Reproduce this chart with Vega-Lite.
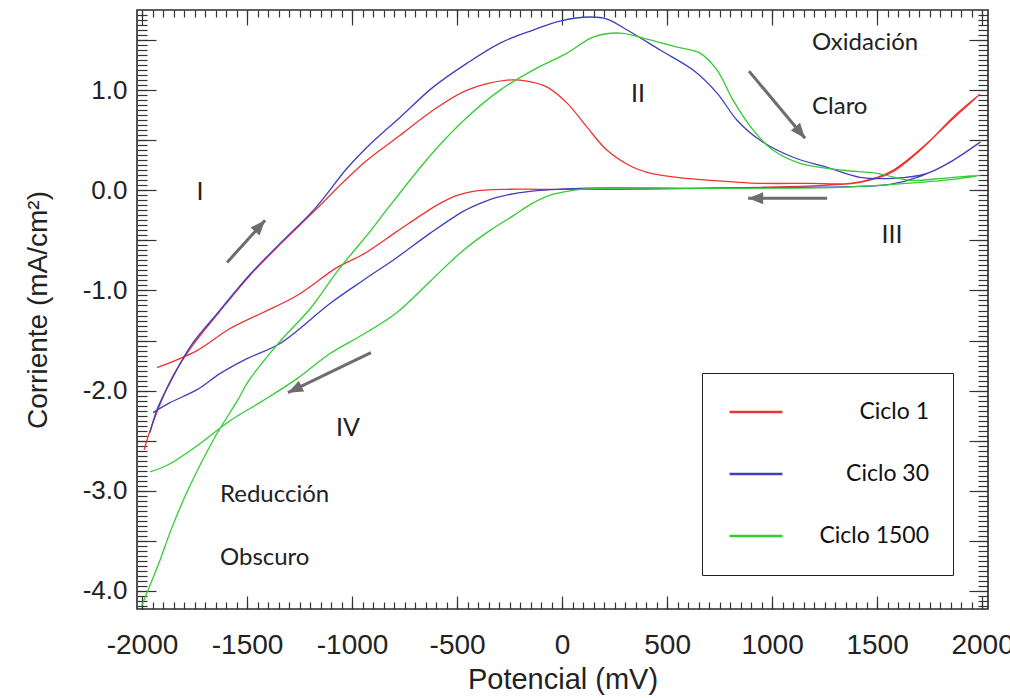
{
 "$schema": "https://vega.github.io/schema/vega-lite/v6.json",
 "width": 851, "height": 599,
 "autosize": {"type": "none"},
 "padding": {"left": 137, "top": 10, "right": 22, "bottom": 89},
 "background": "white",
 "config": {"view": {"stroke": "#2a2a2a", "strokeWidth": 1.6}, "axis": {"grid": false, "domain": false, "tickColor": "#333", "tickWidth": 1.2, "labelFlush": false}},
 "datasets": {
  "curves": [
   {"c":"Ciclo 1","i":1,"E":-1990,"I":-2.59},{"c":"Ciclo 1","i":2,"E":-1957,"I":-2.37},{"c":"Ciclo 1","i":3,"E":-1862,"I":-1.89},{"c":"Ciclo 1","i":4,"E":-1767,"I":-1.57},{"c":"Ciclo 1","i":5,"E":-1638,"I":-1.23},{"c":"Ciclo 1","i":6,"E":-1495,"I":-0.87},{"c":"Ciclo 1","i":7,"E":-1338,"I":-0.53},{"c":"Ciclo 1","i":8,"E":-1176,"I":-0.2},{"c":"Ciclo 1","i":9,"E":-1033,"I":0.1},{"c":"Ciclo 1","i":10,"E":-929,"I":0.3},{"c":"Ciclo 1","i":11,"E":-771,"I":0.55},{"c":"Ciclo 1","i":12,"E":-614,"I":0.8},{"c":"Ciclo 1","i":13,"E":-452,"I":1.0},{"c":"Ciclo 1","i":14,"E":-262,"I":1.1},{"c":"Ciclo 1","i":15,"E":-167,"I":1.09},{"c":"Ciclo 1","i":16,"E":-71,"I":1.03},{"c":"Ciclo 1","i":17,"E":24,"I":0.87},{"c":"Ciclo 1","i":18,"E":119,"I":0.63},{"c":"Ciclo 1","i":19,"E":214,"I":0.4},{"c":"Ciclo 1","i":20,"E":338,"I":0.23},{"c":"Ciclo 1","i":21,"E":405,"I":0.18},{"c":"Ciclo 1","i":22,"E":548,"I":0.13},{"c":"Ciclo 1","i":23,"E":705,"I":0.1},{"c":"Ciclo 1","i":24,"E":943,"I":0.07},{"c":"Ciclo 1","i":25,"E":1181,"I":0.07},{"c":"Ciclo 1","i":26,"E":1371,"I":0.07},{"c":"Ciclo 1","i":27,"E":1500,"I":0.13},{"c":"Ciclo 1","i":28,"E":1576,"I":0.2},{"c":"Ciclo 1","i":29,"E":1738,"I":0.47},{"c":"Ciclo 1","i":30,"E":1862,"I":0.73},{"c":"Ciclo 1","i":31,"E":1990,"I":0.96},{"c":"Ciclo 1","i":32,"E":1848,"I":0.69},{"c":"Ciclo 1","i":33,"E":1705,"I":0.4},{"c":"Ciclo 1","i":34,"E":1562,"I":0.17},{"c":"Ciclo 1","i":35,"E":1419,"I":0.08},{"c":"Ciclo 1","i":36,"E":1243,"I":0.05},{"c":"Ciclo 1","i":37,"E":943,"I":0.03},{"c":"Ciclo 1","i":38,"E":657,"I":0.02},{"c":"Ciclo 1","i":39,"E":276,"I":0.01},{"c":"Ciclo 1","i":40,"E":-105,"I":0.01},{"c":"Ciclo 1","i":41,"E":-262,"I":0.01},{"c":"Ciclo 1","i":42,"E":-424,"I":-0.01},{"c":"Ciclo 1","i":43,"E":-500,"I":-0.05},{"c":"Ciclo 1","i":44,"E":-581,"I":-0.13},{"c":"Ciclo 1","i":45,"E":-629,"I":-0.19},{"c":"Ciclo 1","i":46,"E":-786,"I":-0.41},{"c":"Ciclo 1","i":47,"E":-948,"I":-0.64},{"c":"Ciclo 1","i":48,"E":-1071,"I":-0.77},{"c":"Ciclo 1","i":49,"E":-1262,"I":-1.05},{"c":"Ciclo 1","i":50,"E":-1424,"I":-1.22},{"c":"Ciclo 1","i":51,"E":-1581,"I":-1.38},{"c":"Ciclo 1","i":52,"E":-1738,"I":-1.6},{"c":"Ciclo 1","i":53,"E":-1929,"I":-1.77},
   {"c":"Ciclo 30","i":1,"E":-1962,"I":-2.42},{"c":"Ciclo 30","i":2,"E":-1929,"I":-2.19},{"c":"Ciclo 30","i":3,"E":-1867,"I":-1.92},{"c":"Ciclo 30","i":4,"E":-1767,"I":-1.55},{"c":"Ciclo 30","i":5,"E":-1638,"I":-1.22},{"c":"Ciclo 30","i":6,"E":-1495,"I":-0.86},{"c":"Ciclo 30","i":7,"E":-1338,"I":-0.52},{"c":"Ciclo 30","i":8,"E":-1176,"I":-0.18},{"c":"Ciclo 30","i":9,"E":-1024,"I":0.22},{"c":"Ciclo 30","i":10,"E":-929,"I":0.43},{"c":"Ciclo 30","i":11,"E":-771,"I":0.73},{"c":"Ciclo 30","i":12,"E":-614,"I":1.03},{"c":"Ciclo 30","i":13,"E":-452,"I":1.27},{"c":"Ciclo 30","i":14,"E":-295,"I":1.47},{"c":"Ciclo 30","i":15,"E":-138,"I":1.6},{"c":"Ciclo 30","i":16,"E":-10,"I":1.69},{"c":"Ciclo 30","i":17,"E":133,"I":1.73},{"c":"Ciclo 30","i":18,"E":214,"I":1.71},{"c":"Ciclo 30","i":19,"E":310,"I":1.6},{"c":"Ciclo 30","i":20,"E":467,"I":1.4},{"c":"Ciclo 30","i":21,"E":624,"I":1.2},{"c":"Ciclo 30","i":22,"E":738,"I":0.97},{"c":"Ciclo 30","i":23,"E":833,"I":0.7},{"c":"Ciclo 30","i":24,"E":943,"I":0.5},{"c":"Ciclo 30","i":25,"E":1100,"I":0.33},{"c":"Ciclo 30","i":26,"E":1262,"I":0.23},{"c":"Ciclo 30","i":27,"E":1419,"I":0.13},{"c":"Ciclo 30","i":28,"E":1576,"I":0.12},{"c":"Ciclo 30","i":29,"E":1738,"I":0.17},{"c":"Ciclo 30","i":30,"E":1862,"I":0.3},{"c":"Ciclo 30","i":31,"E":1990,"I":0.48},{"c":"Ciclo 30","i":32,"E":1848,"I":0.28},{"c":"Ciclo 30","i":33,"E":1705,"I":0.14},{"c":"Ciclo 30","i":34,"E":1562,"I":0.06},{"c":"Ciclo 30","i":35,"E":1419,"I":0.04},{"c":"Ciclo 30","i":36,"E":1133,"I":0.03},{"c":"Ciclo 30","i":37,"E":657,"I":0.02},{"c":"Ciclo 30","i":38,"E":86,"I":0.02},{"c":"Ciclo 30","i":39,"E":-152,"I":-0.01},{"c":"Ciclo 30","i":40,"E":-310,"I":-0.07},{"c":"Ciclo 30","i":41,"E":-390,"I":-0.13},{"c":"Ciclo 30","i":42,"E":-471,"I":-0.21},{"c":"Ciclo 30","i":43,"E":-629,"I":-0.43},{"c":"Ciclo 30","i":44,"E":-786,"I":-0.67},{"c":"Ciclo 30","i":45,"E":-948,"I":-0.9},{"c":"Ciclo 30","i":46,"E":-1105,"I":-1.13},{"c":"Ciclo 30","i":47,"E":-1343,"I":-1.53},{"c":"Ciclo 30","i":48,"E":-1500,"I":-1.68},{"c":"Ciclo 30","i":49,"E":-1629,"I":-1.83},{"c":"Ciclo 30","i":50,"E":-1738,"I":-1.99},{"c":"Ciclo 30","i":51,"E":-1867,"I":-2.12},{"c":"Ciclo 30","i":52,"E":-1948,"I":-2.22},
   {"c":"Ciclo 1500","i":1,"E":-2000,"I":-4.14},{"c":"Ciclo 1500","i":2,"E":-1971,"I":-3.99},{"c":"Ciclo 1500","i":3,"E":-1914,"I":-3.69},{"c":"Ciclo 1500","i":4,"E":-1862,"I":-3.39},{"c":"Ciclo 1500","i":5,"E":-1781,"I":-2.99},{"c":"Ciclo 1500","i":6,"E":-1652,"I":-2.46},{"c":"Ciclo 1500","i":7,"E":-1543,"I":-2.09},{"c":"Ciclo 1500","i":8,"E":-1495,"I":-1.91},{"c":"Ciclo 1500","i":9,"E":-1352,"I":-1.53},{"c":"Ciclo 1500","i":10,"E":-1195,"I":-1.17},{"c":"Ciclo 1500","i":11,"E":-1067,"I":-0.8},{"c":"Ciclo 1500","i":12,"E":-910,"I":-0.4},{"c":"Ciclo 1500","i":13,"E":-852,"I":-0.24},{"c":"Ciclo 1500","i":14,"E":-614,"I":0.38},{"c":"Ciclo 1500","i":15,"E":-452,"I":0.73},{"c":"Ciclo 1500","i":16,"E":-295,"I":1.0},{"c":"Ciclo 1500","i":17,"E":-138,"I":1.2},{"c":"Ciclo 1500","i":18,"E":24,"I":1.37},{"c":"Ciclo 1500","i":19,"E":148,"I":1.53},{"c":"Ciclo 1500","i":20,"E":276,"I":1.57},{"c":"Ciclo 1500","i":21,"E":386,"I":1.52},{"c":"Ciclo 1500","i":22,"E":548,"I":1.43},{"c":"Ciclo 1500","i":23,"E":657,"I":1.37},{"c":"Ciclo 1500","i":24,"E":738,"I":1.2},{"c":"Ciclo 1500","i":25,"E":814,"I":0.9},{"c":"Ciclo 1500","i":26,"E":910,"I":0.6},{"c":"Ciclo 1500","i":27,"E":1005,"I":0.4},{"c":"Ciclo 1500","i":28,"E":1133,"I":0.27},{"c":"Ciclo 1500","i":29,"E":1338,"I":0.2},{"c":"Ciclo 1500","i":30,"E":1500,"I":0.17},{"c":"Ciclo 1500","i":31,"E":1657,"I":0.1},{"c":"Ciclo 1500","i":32,"E":1814,"I":0.12},{"c":"Ciclo 1500","i":33,"E":1990,"I":0.15},{"c":"Ciclo 1500","i":34,"E":1900,"I":0.12},{"c":"Ciclo 1500","i":35,"E":1643,"I":0.07},{"c":"Ciclo 1500","i":36,"E":1324,"I":0.03},{"c":"Ciclo 1500","i":37,"E":657,"I":0.02},{"c":"Ciclo 1500","i":38,"E":181,"I":0.02},{"c":"Ciclo 1500","i":39,"E":86,"I":0.01},{"c":"Ciclo 1500","i":40,"E":24,"I":-0.01},{"c":"Ciclo 1500","i":41,"E":-60,"I":-0.05},{"c":"Ciclo 1500","i":42,"E":-150,"I":-0.14},{"c":"Ciclo 1500","i":43,"E":-230,"I":-0.25},{"c":"Ciclo 1500","i":44,"E":-343,"I":-0.4},{"c":"Ciclo 1500","i":45,"E":-471,"I":-0.6},{"c":"Ciclo 1500","i":46,"E":-629,"I":-0.91},{"c":"Ciclo 1500","i":47,"E":-786,"I":-1.22},{"c":"Ciclo 1500","i":48,"E":-948,"I":-1.44},{"c":"Ciclo 1500","i":49,"E":-1105,"I":-1.63},{"c":"Ciclo 1500","i":50,"E":-1262,"I":-1.88},{"c":"Ciclo 1500","i":51,"E":-1424,"I":-2.1},{"c":"Ciclo 1500","i":52,"E":-1581,"I":-2.3},{"c":"Ciclo 1500","i":53,"E":-1738,"I":-2.55},{"c":"Ciclo 1500","i":54,"E":-1876,"I":-2.74},{"c":"Ciclo 1500","i":55,"E":-1962,"I":-2.81}
  ],
  "arrows": [
   {"x1":-1595,"y1":-0.72,"x2":-1414,"y2":-0.3,"heading":42},
   {"x1":890,"y1":1.19,"x2":1157,"y2":0.52,"heading":140},
   {"x1":1262,"y1":-0.08,"x2":886,"y2":-0.08,"heading":270},
   {"x1":-910,"y1":-1.62,"x2":-1305,"y2":-2.02,"heading":244}
  ],
  "numerals": [
   {"t":"I","E":-1724,"I":-0.02},
   {"t":"II","E":362,"I":0.96},
   {"t":"III","E":1571,"I":-0.45},
   {"t":"IV","E":-1019,"I":-2.37}
  ],
  "notes": [
   {"t":"Oxidación","E":1190,"I":1.47},
   {"t":"Claro","E":1190,"I":0.83},
   {"t":"Reducción","E":-1629,"I":-3.04},
   {"t":"Obscuro","E":-1629,"I":-3.67}
  ]
 },
 "resolve": {"axis": {"x": "independent", "y": "independent"}},
 "layer": [
  {
   "data": {"name": "curves"},
   "mark": {"type": "line", "strokeWidth": 1.3, "interpolate": "catmull-rom"},
   "encoding": {
    "x": {"field": "E", "type": "quantitative", "scale": {"domain": [-2024, 2028], "nice": false, "zero": false},
     "axis": {"orient": "bottom", "values": [-2000,-1500,-1000,-500,0,500,1000,1500,2000], "labelExpr": "datum.value < 0 ? '-' + format(-datum.value, 'd') : format(datum.value, 'd')", "ticks": false, "labelPadding": 22, "labelFont": "Liberation Sans", "labelFontSize": 28, "labelColor": "#222", "title": "Potencial (mV)", "titleFont": "Liberation Sans", "titleFontSize": 29, "titleFontWeight": "normal", "titleColor": "#222", "titlePadding": 6}},
    "y": {"field": "I", "type": "quantitative", "scale": {"domain": [-4.18, 1.8], "nice": false, "zero": false},
     "axis": {"orient": "left", "values": [-4,-3,-2,-1,0,1], "labelExpr": "datum.value < 0 ? '-' + format(-datum.value, '.1f') : format(datum.value, '.1f')", "ticks": false, "labelPadding": 10, "labelFont": "Liberation Sans", "labelFontSize": 26, "labelColor": "#222", "title": "Corriente (mA/cm²)", "titleFont": "Liberation Sans", "titleFontSize": 28, "titleFontWeight": "normal", "titleColor": "#222", "titlePadding": 30}},
    "color": {"field": "c", "type": "nominal",
     "scale": {"domain": ["Ciclo 1", "Ciclo 30", "Ciclo 1500"], "range": ["#ee3333", "#3f3fbf", "#33cc33"]},
     "legend": {"orient": "none", "legendX": 565, "legendY": 363, "title": null, "fillColor": "white", "strokeColor": "#222", "padding": 24,
      "symbolType": "stroke", "symbolSize": 2800, "symbolStrokeWidth": 2.5, "symbolOffset": 2, "clipHeight": 30, "labelFont": "Lato", "labelFontSize": 23, "labelColor": "#111",
      "labelAlign": "right", "labelOffset": 145, "rowPadding": 32}},
    "order": {"field": "i", "type": "quantitative"}
   }
  },
  {
   "data": {"name": "curves"},
   "mark": {"type": "point", "opacity": 0},
   "encoding": {
    "x": {"field": "E", "type": "quantitative", "scale": {"domain": [-2024, 2028], "nice": false, "zero": false},
     "axis": {"orient": "bottom", "values": [-2000,-1500,-1000,-500,0,500,1000,1500,2000], "labels": false, "tickSize": 13, "offset": -13, "title": null}},
    "y": {"field": "I", "type": "quantitative", "scale": {"domain": [-4.18, 1.8], "nice": false, "zero": false},
     "axis": {"orient": "left", "values": [-4,-3.5,-3,-2.5,-2,-1.5,-1,-0.5,0,0.5,1,1.5], "labels": false, "tickSize": 19, "offset": -19, "title": null}}
   }
  },
  {
   "data": {"name": "curves"},
   "mark": {"type": "point", "opacity": 0},
   "encoding": {
    "x": {"field": "E", "type": "quantitative", "scale": {"domain": [-2024, 2028], "nice": false, "zero": false},
     "axis": {"orient": "bottom", "values": [-2000,-1950,-1900,-1850,-1800,-1750,-1700,-1650,-1600,-1550,-1500,-1450,-1400,-1350,-1300,-1250,-1200,-1150,-1100,-1050,-1000,-950,-900,-850,-800,-750,-700,-650,-600,-550,-500,-450,-400,-350,-300,-250,-200,-150,-100,-50,0,50,100,150,200,250,300,350,400,450,500,550,600,650,700,750,800,850,900,950,1000,1050,1100,1150,1200,1250,1300,1350,1400,1450,1500,1550,1600,1650,1700,1750,1800,1850,1900,1950,2000], "labels": false, "tickSize": 7, "offset": -7, "title": null}},
    "y": {"field": "I", "type": "quantitative", "scale": {"domain": [-4.18, 1.8], "nice": false, "zero": false},
     "axis": {"orient": "left", "values": [-4.15,-4.1,-4.05,-4,-3.95,-3.9,-3.85,-3.8,-3.75,-3.7,-3.65,-3.6,-3.55,-3.5,-3.45,-3.4,-3.35,-3.3,-3.25,-3.2,-3.15,-3.1,-3.05,-3,-2.95,-2.9,-2.85,-2.8,-2.75,-2.7,-2.65,-2.6,-2.55,-2.5,-2.45,-2.4,-2.35,-2.3,-2.25,-2.2,-2.15,-2.1,-2.05,-2,-1.95,-1.9,-1.85,-1.8,-1.75,-1.7,-1.65,-1.6,-1.55,-1.5,-1.45,-1.4,-1.35,-1.3,-1.25,-1.2,-1.15,-1.1,-1.05,-1,-0.95,-0.9,-0.85,-0.8,-0.75,-0.7,-0.65,-0.6,-0.55,-0.5,-0.45,-0.4,-0.35,-0.3,-0.25,-0.2,-0.15,-0.1,-0.05,0,0.05,0.1,0.15,0.2,0.25,0.3,0.35,0.4,0.45,0.5,0.55,0.6,0.65,0.7,0.75,0.8,0.85,0.9,0.95,1,1.05,1.1,1.15,1.2,1.25,1.3,1.35,1.4,1.45,1.5,1.55,1.6,1.65,1.7,1.75], "labels": false, "tickSize": 10, "offset": -10, "title": null}}
   }
  },
  {
   "data": {"name": "curves"},
   "mark": {"type": "point", "opacity": 0},
   "encoding": {
    "x": {"field": "E", "type": "quantitative", "scale": {"domain": [-2024, 2028], "nice": false, "zero": false},
     "axis": {"orient": "top", "values": [-2000,-1500,-1000,-500,0,500,1000,1500,2000], "labels": false, "tickSize": 15, "offset": -15, "title": null}},
    "y": {"field": "I", "type": "quantitative", "scale": {"domain": [-4.18, 1.8], "nice": false, "zero": false},
     "axis": {"orient": "right", "values": [-4,-3.5,-3,-2.5,-2,-1.5,-1,-0.5,0,0.5,1,1.5], "labels": false, "tickSize": 19, "offset": -19, "title": null}}
   }
  },
  {
   "data": {"name": "curves"},
   "mark": {"type": "point", "opacity": 0},
   "encoding": {
    "x": {"field": "E", "type": "quantitative", "scale": {"domain": [-2024, 2028], "nice": false, "zero": false},
     "axis": {"orient": "top", "values": [-2000,-1950,-1900,-1850,-1800,-1750,-1700,-1650,-1600,-1550,-1500,-1450,-1400,-1350,-1300,-1250,-1200,-1150,-1100,-1050,-1000,-950,-900,-850,-800,-750,-700,-650,-600,-550,-500,-450,-400,-350,-300,-250,-200,-150,-100,-50,0,50,100,150,200,250,300,350,400,450,500,550,600,650,700,750,800,850,900,950,1000,1050,1100,1150,1200,1250,1300,1350,1400,1450,1500,1550,1600,1650,1700,1750,1800,1850,1900,1950,2000], "labels": false, "tickSize": 7, "offset": -7, "title": null}},
    "y": {"field": "I", "type": "quantitative", "scale": {"domain": [-4.18, 1.8], "nice": false, "zero": false},
     "axis": {"orient": "right", "values": [-4.15,-4.1,-4.05,-4,-3.95,-3.9,-3.85,-3.8,-3.75,-3.7,-3.65,-3.6,-3.55,-3.5,-3.45,-3.4,-3.35,-3.3,-3.25,-3.2,-3.15,-3.1,-3.05,-3,-2.95,-2.9,-2.85,-2.8,-2.75,-2.7,-2.65,-2.6,-2.55,-2.5,-2.45,-2.4,-2.35,-2.3,-2.25,-2.2,-2.15,-2.1,-2.05,-2,-1.95,-1.9,-1.85,-1.8,-1.75,-1.7,-1.65,-1.6,-1.55,-1.5,-1.45,-1.4,-1.35,-1.3,-1.25,-1.2,-1.15,-1.1,-1.05,-1,-0.95,-0.9,-0.85,-0.8,-0.75,-0.7,-0.65,-0.6,-0.55,-0.5,-0.45,-0.4,-0.35,-0.3,-0.25,-0.2,-0.15,-0.1,-0.05,0,0.05,0.1,0.15,0.2,0.25,0.3,0.35,0.4,0.45,0.5,0.55,0.6,0.65,0.7,0.75,0.8,0.85,0.9,0.95,1,1.05,1.1,1.15,1.2,1.25,1.3,1.35,1.4,1.45,1.5,1.55,1.6,1.65,1.7,1.75], "labels": false, "tickSize": 10, "offset": -10, "title": null}}
   }
  },
  {
   "data": {"name": "arrows"},
   "mark": {"type": "rule", "strokeWidth": 3, "color": "#6d6d6d"},
   "encoding": {
    "x": {"field": "x1", "type": "quantitative", "scale": {"domain": [-2024, 2028], "nice": false, "zero": false}, "axis": null},
    "y": {"field": "y1", "type": "quantitative", "scale": {"domain": [-4.18, 1.8], "nice": false, "zero": false}, "axis": null},
    "x2": {"field": "x2"},
    "y2": {"field": "y2"}
   }
  },
  {
   "data": {"name": "arrows"},
   "mark": {"type": "point", "shape": "M0,0L0.8,2L-0.8,2Z", "size": 225, "filled": true, "color": "#6d6d6d", "opacity": 1, "strokeWidth": 0},
   "encoding": {
    "x": {"field": "x2", "type": "quantitative", "scale": {"domain": [-2024, 2028], "nice": false, "zero": false}, "axis": null},
    "y": {"field": "y2", "type": "quantitative", "scale": {"domain": [-4.18, 1.8], "nice": false, "zero": false}, "axis": null},
    "angle": {"field": "heading", "type": "quantitative", "scale": null}
   }
  },
  {
   "data": {"name": "numerals"},
   "mark": {"type": "text", "font": "Lato", "fontSize": 25, "color": "#222", "align": "center", "baseline": "middle"},
   "encoding": {
    "x": {"field": "E", "type": "quantitative", "scale": {"domain": [-2024, 2028], "nice": false, "zero": false}, "axis": null},
    "y": {"field": "I", "type": "quantitative", "scale": {"domain": [-4.18, 1.8], "nice": false, "zero": false}, "axis": null},
    "text": {"field": "t"}
   }
  },
  {
   "data": {"name": "notes"},
   "mark": {"type": "text", "font": "Lato", "fontSize": 24, "color": "#222", "align": "left", "baseline": "middle"},
   "encoding": {
    "x": {"field": "E", "type": "quantitative", "scale": {"domain": [-2024, 2028], "nice": false, "zero": false}, "axis": null},
    "y": {"field": "I", "type": "quantitative", "scale": {"domain": [-4.18, 1.8], "nice": false, "zero": false}, "axis": null},
    "text": {"field": "t"}
   }
  }
 ]
}
